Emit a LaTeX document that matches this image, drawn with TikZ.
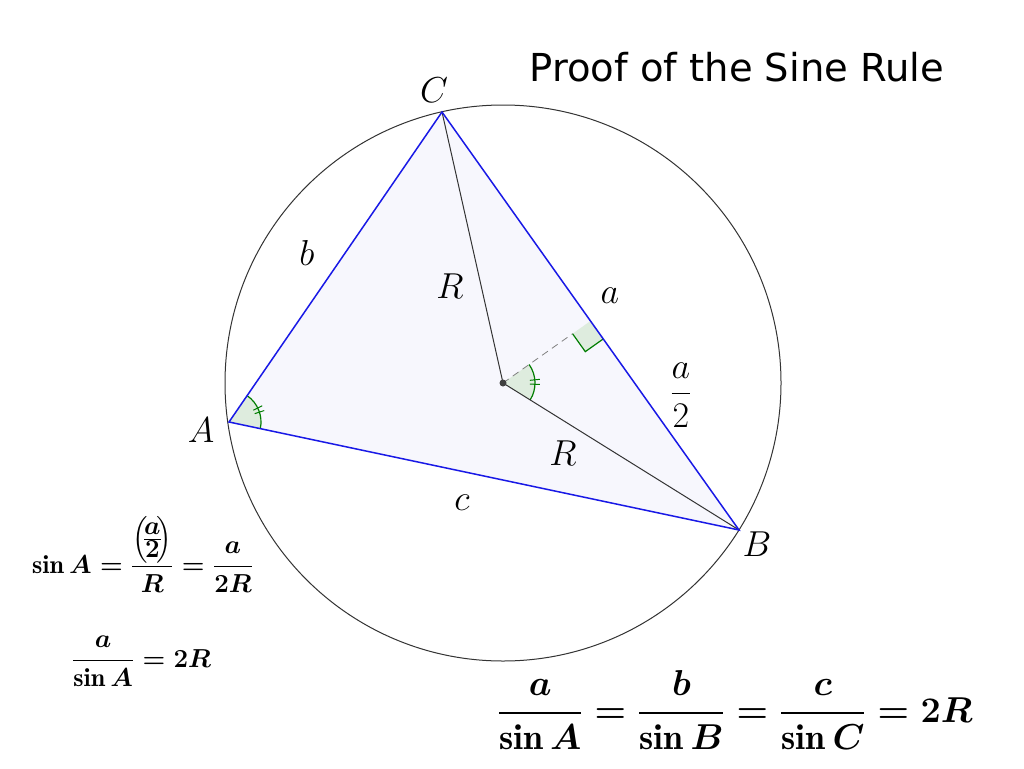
\documentclass[tikz,border=0pt]{standalone}
\usepackage{amsmath}
\usepackage{fontspec}
\newfontfamily\titlefont{DejaVu Sans}
\usetikzlibrary{calc,angles}
\definecolor{edgeblue}{RGB}{25,25,230}
\definecolor{angreen}{RGB}{0,125,0}
\definecolor{angfill}{RGB}{222,236,222}
\definecolor{trifill}{RGB}{247,247,253}
\begin{document}
\begin{tikzpicture}[x=1pt,y=1pt,
  lab/.style={font=\Huge, inner sep=0pt, scale=1.45, transform shape},
  frm/.style={font=\Huge\boldmath, inner sep=0pt, scale=1.045, transform shape},
  bigfrm/.style={font=\Huge\boldmath, inner sep=0pt, scale=1.447, transform shape},
  edge/.style={draw=edgeblue, line width=1.5pt},
  rad/.style={draw=black!80, line width=1pt},
  angmark/.style={draw=angreen, fill=angfill, line width=1.2pt, angle radius=32pt},
  tick/.style={draw=angreen, line width=1pt},
]
\useasboundingbox (0,-768) rectangle (1024,0);
\fill[white] (0,-768) rectangle (1024,0);
\coordinate (O) at (503,-383);
\coordinate (A) at (229,-422);
\coordinate (B) at (739,-530);
\coordinate (C) at (442,-112);
\coordinate (M) at ($(C)!0.5!(B)$);
\coordinate (Mo) at ($(M)!22pt!(O)$);
\coordinate (Mb) at ($(M)!22pt!(B)$);
\coordinate (Mc) at ($(Mo)+(Mb)-(M)$);
% circle
\draw[black!80, line width=1pt] (O) circle (278pt);
% triangle fill
\fill[trifill] (A) -- (B) -- (C) -- cycle;
% angle marks
\pic[angmark] {angle = B--A--C};
\pic[angmark] {angle = B--O--M};
\draw[tick] ($(A)+(18:27pt)$) -- ($(A)+(18:37pt)$);
\draw[tick] ($(A)+(26:27pt)$) -- ($(A)+(26:37pt)$);
\draw[tick] ($(O)+(-2.3:27pt)$) -- ($(O)+(-2.3:37pt)$);
\draw[tick] ($(O)+(5.7:27pt)$) -- ($(O)+(5.7:37pt)$);
% right angle square
\fill[angfill] (M) -- (Mo) -- (Mc) -- (Mb) -- cycle;
\draw[angreen, line width=1.2pt] (Mo) -- (Mc) -- (Mb);
% dashed
\draw[gray, line width=0.8pt, dash pattern=on 7pt off 5pt] (O) -- (Mo);
% radii
\draw[rad] (O) -- (C);
\draw[rad] (O) -- (B);
% edges
\draw[edge] (A) -- (B) -- (C) -- cycle;
\fill[black!75] (O) circle (3.5pt);
% labels
\node[lab] (lC) at (434,-90) {$C$};
\node[lab] (lA) at (201,-430) {$A$};
\node[lab] (lB) at (757,-544) {$B$};
\node[lab] (lb) at (307,-253) {$b$};
\node[lab] (lR1) at (450,-286) {$R$};
\node[lab] (la) at (610,-296) {$a$};
\node[lab] (la2) at (681,-395) {$\dfrac{a}{2}$};
\node[lab] (lR2) at (563,-453) {$R$};
\node[lab] (lc) at (462,-503) {$c$};
% title
\node[font=\titlefont\fontsize{38.5}{44}\selectfont, inner sep=0pt] (title) at (737,-67) {Proof of the Sine Rule};
% formulas
\node[frm, anchor=base west] (f1) at (32,-573) {$\sin A=\dfrac{\Bigl(\!{\textstyle\frac{\textstyle a}{\textstyle 2}}\!\Bigr)}{R}=\dfrac{a}{2R}$};
\node[frm, anchor=base west] (f2) at (72,-667) {$\dfrac{a}{\sin A}=2R$};
\node[bigfrm, anchor=base west] (f3) at (497,-722) {$\dfrac{a}{\sin A}=\dfrac{b}{\sin B}=\dfrac{c}{\sin C}=2R$};
\end{tikzpicture}
\end{document}
